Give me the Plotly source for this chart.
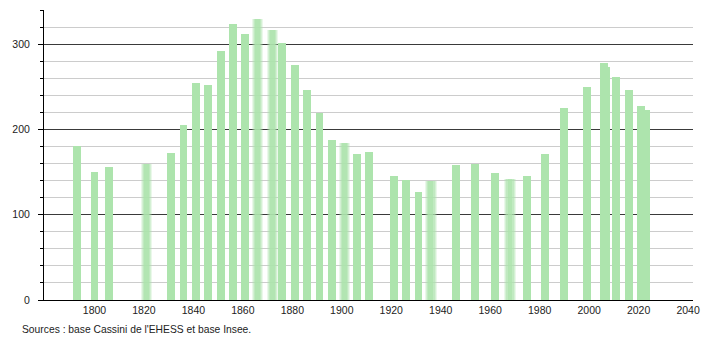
import plotly.graph_objects as go

years = [1793, 1800, 1806, 1821, 1831, 1836, 1841, 1846, 1851, 1856, 1861, 1866,
         1872, 1876, 1881, 1886, 1891, 1896, 1901, 1906, 1911, 1921, 1926, 1931,
         1936, 1946, 1954, 1962, 1968, 1975, 1982, 1990, 1999, 2006, 2007, 2011,
         2016, 2021, 2023]
population = [180, 150, 156, 160, 172, 205, 255, 252, 292, 324, 312, 330,
              316, 301, 275, 246, 219, 188, 184, 171, 173, 145, 141, 127,
              139, 158, 160, 149, 142, 145, 171, 225, 250, 278, 273, 262,
              246, 228, 223]
blurred_years = [1821, 1866, 1872, 1901, 1936, 1968]

x_ticks = [1800, 1820, 1840, 1860, 1880, 1900, 1920, 1940, 1960, 1980, 2000, 2020, 2040]
y_ticks = [0, 100, 200, 300]
source_text = "Sources : base Cassini de l'EHESS et base Insee."

bar_color = "#ade4ad"
font_family = "Liberation Sans, Arial, sans-serif"

fig = go.Figure()

sharp_x = [y for y in years if y not in blurred_years]
sharp_v = [v for y, v in zip(years, population) if y not in blurred_years]
blur_x = [y for y in years if y in blurred_years]
blur_v = [v for y, v in zip(years, population) if y in blurred_years]

# blurred bars: layered halos
for w, op in [(4.6, 0.25), (3.8, 0.35), (3.0, 0.5), (2.0, 0.7)]:
    fig.add_trace(go.Bar(x=blur_x, y=blur_v, width=w, marker=dict(color=bar_color, line=dict(width=0)),
                         opacity=op, showlegend=False, hoverinfo="skip"))

fig.add_trace(go.Bar(x=sharp_x, y=sharp_v, width=3.2,
                     marker=dict(color=bar_color, line=dict(width=0)), showlegend=False))

fig.update_layout(
    width=710, height=340,
    margin=dict(l=44, r=10, t=10, b=40),
    paper_bgcolor="white", plot_bgcolor="white",
    barmode="overlay", bargap=0,
    font=dict(family=font_family, size=10.5, color="#222"),
    xaxis=dict(range=[1779.6, 2042], tickvals=x_ticks, ticktext=[str(t) for t in x_ticks],
               showgrid=False, showline=True, linecolor="black", linewidth=1,
               ticks="", zeroline=False, tickfont=dict(size=10.5, color="#222")),
    yaxis=dict(range=[0, 340], tickvals=y_ticks, showgrid=True, gridcolor="#3a3a3a", gridwidth=1,
               showline=True, linecolor="black", linewidth=1, ticks="outside", ticklen=5,
               tickcolor="black", zeroline=False, ticklabelstandoff=6,
               tickfont=dict(size=10.5, color="#222"),
               minor=dict(dtick=20, showgrid=True, gridcolor="#cccccc", gridwidth=1,
                          ticks="outside", ticklen=3, tickcolor="black")),
    annotations=[dict(text=source_text, xref="paper", yref="paper",
                      x=(20 - 44) / 656, y=(340 - 329 - 40) / 290,
                      xanchor="left", yanchor="middle",
                      showarrow=False, font=dict(size=10.3, color="#222"))],
)

fig.write_html("out.html")
